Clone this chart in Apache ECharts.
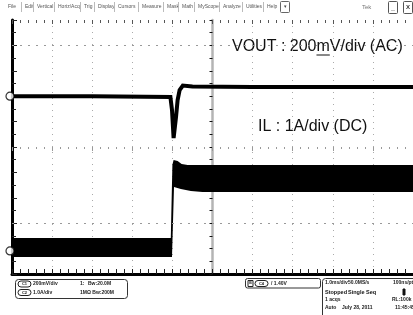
<!DOCTYPE html>
<html>
<head>
<meta charset="utf-8" />
<script src="https://cdn.jsdelivr.net/npm/echarts@6/dist/echarts.min.js"></script>
<title></title>
<style>
    html, body { margin: 0; padding: 0; background: #fff; }
    #main { width: 413px; height: 315px; }
</style>
</head>
<body>
<div id="main"></div>
<script type="text/javascript">

    // time in ms (1.0 ms/div, 0 = screen centre), levels in divisions from screen centre
    var voutTime  = [-5, -3, -1.05, -1.01, -0.97, -0.91, -0.87, -0.82, -0.74, -0.5, 1, 5];
    var voutLevel = [2.0, 2.0, 1.97, 1.46, 0.35, 1.18, 1.85, 2.24, 2.42, 2.38, 2.36, 2.36];

    // IL ripple band: upper and lower envelope
    var ilTopTime  = [-5, -1.04, -1.0, -0.97, -0.87, -0.77, -0.62, 5];
    var ilTopLevel = [-3.58, -3.58, -0.7, -0.51, -0.55, -0.67, -0.71, -0.71];
    var ilBotTime  = [-5, -1.01, -0.96, -0.79, -0.54, -0.25, 5];
    var ilBotLevel = [-4.33, -4.33, -1.57, -1.65, -1.73, -1.77, -1.77];

    var channelMarks = [2.0, -4.09];   // ch1 / ch2 ground reference
    var refRows = [4, -3];

    var menuItems = ['File', 'Edit', 'Vertical', 'Horiz/Acq', 'Trig', 'Display', 'Cursors',
        'Measure', 'Mask', 'Math', 'MyScope', 'Analyze', 'Utilities', 'Help'];
    var menuX = [8, 25, 37, 58, 84, 98, 118, 142, 167, 182, 198, 223, 246, 267];

    var chart = echarts.init(document.getElementById('main'));

    var FONT = '"Liberation Sans", Arial, sans-serif';
    var ctx = document.createElement('canvas').getContext('2d');
    ctx.font = '16px ' + FONT;
    var voutX = 232;
    var mStart = voutX + ctx.measureText('VOUT : 200').width;
    var mWidth = ctx.measureText('m').width;

    function renderBand(params, api) {
        var pts = [];
        for (var i = 0; i < ilTopTime.length; i++) {
            pts.push(api.coord([ilTopTime[i], ilTopLevel[i]]));
        }
        for (var j = ilBotTime.length - 1; j >= 0; j--) {
            pts.push(api.coord([ilBotTime[j], ilBotLevel[j]]));
        }
        return { type: 'polygon', shape: { points: pts }, style: { fill: '#000' } };
    }

    function txt(x, y, s, size, bold, fill, align) {
        return {
            type: 'text', x: x, y: y, silent: true,
            style: {
                text: s, font: (bold ? 'bold ' : '') + size + 'px ' + FONT,
                fill: fill || '#222', align: align || 'left', verticalAlign: 'middle'
            }
        };
    }
    function box(x, y, w, h, r, stroke, fill) {
        return {
            type: 'rect', silent: true,
            shape: { x: x, y: y, width: w, height: h, r: r },
            style: { fill: fill || 'none', stroke: stroke || '#333', lineWidth: 1 }
        };
    }
    function oval(x, y, label) {
        return [box(x, y, 13, 6, 3, '#222'), txt(x + 6.5, y + 3, label, 4, true, '#222', 'center')];
    }

    var graphics = [];
    // menu bar
    menuItems.forEach(function (m, i) {
        graphics.push(txt(menuX[i], 7, m, 5, false, '#555'));
        if (i > 0) {
            graphics.push({ type: 'line', silent: true, shape: { x1: menuX[i] - 3.5, y1: 2, x2: menuX[i] - 3.5, y2: 12 },
                style: { stroke: '#bbb', lineWidth: 1 } });
        }
    });
    graphics.push(box(280.5, 1.5, 9, 11, 1, '#666'));
    graphics.push(txt(285, 7, '▾', 5, false, '#444', 'center'));
    graphics.push(txt(362, 7, 'Tek', 6, false, '#777'));
    graphics.push(box(388.5, 1.5, 9, 12, 1, '#555'));
    graphics.push(txt(393, 8, '_', 7, true, '#333', 'center'));
    graphics.push(box(403.5, 1.5, 9, 12, 1, '#555'));
    graphics.push(txt(408, 7.5, 'X', 6, true, '#333', 'center'));

    // trace labels
    graphics.push(txt(voutX, 47, 'VOUT : 200mV/div (AC)', 16, false, '#111'));
    graphics.push({ type: 'line', silent: true,
        shape: { x1: mStart, y1: 55, x2: mStart + mWidth, y2: 55 }, style: { stroke: '#111', lineWidth: 1 } });
    graphics.push(txt(258, 127, 'IL : 1A/div (DC)', 16, false, '#111'));

    // bottom status panel
    graphics.push(box(15.5, 279.5, 112, 19, 3, '#333'));
    graphics = graphics.concat(oval(18, 281, 'C1'));
    graphics.push(txt(33, 284, '200mV/div', 5, true));
    graphics.push(txt(80, 284, '1:', 5, true));
    graphics.push(txt(88, 284, 'Bw:20.0M', 5, true));
    graphics = graphics.concat(oval(18, 289.5, 'C2'));
    graphics.push(txt(33, 292.5, '1.0A/div', 5, true));
    graphics.push(txt(80, 292.5, '1MΩ Bw:200M', 5, true));

    graphics.push(box(245.5, 278.5, 75, 9.5, 2, '#333'));
    graphics.push(box(248, 280.5, 5, 6, 0, '#222'));
    graphics.push(txt(250.5, 283.5, 'B', 3.5, true, '#222', 'center'));
    graphics = graphics.concat(oval(255, 280.5, 'C4'));
    graphics.push(txt(271, 283.5, '/ 1.40V', 5, true));

    graphics.push(box(322.5, 278.5, 100, 50, 3, '#333'));
    graphics.push(txt(325, 283, '1.0ms/div', 5, true));
    graphics.push(txt(348, 283, '50.0MS/s', 5, true));
    graphics.push(txt(393, 283, '100ns/pt', 5, true));
    graphics.push(txt(325, 292, 'Stopped', 5.5, true, '#111'));
    graphics.push(txt(348, 292, 'Single Seq', 5.5, true, '#111'));
    graphics.push(box(403, 289, 2, 6, 0, '#111', '#111'));
    graphics.push(txt(325, 300, '1 acqs', 5, true));
    graphics.push(txt(392, 300, 'RL:100k', 5, true));
    graphics.push(txt(325, 307.5, 'Auto', 5, true));
    graphics.push(txt(342, 307.5, 'July 28, 2011', 5, true));
    graphics.push(txt(395, 307.5, '11:45:45', 5, true));

    var gridRect = { left: 12, top: 20, width: 406, height: 254 };

    chart.setOption({
        animation: false,
        backgroundColor: '#fff',
        grid: [
            { left: gridRect.left, top: gridRect.top, width: gridRect.width, height: gridRect.height },
            { left: gridRect.left, top: gridRect.top, width: gridRect.width, height: gridRect.height }
        ],
        xAxis: [
            {
                type: 'value', gridIndex: 0, position: 'bottom', min: -5, max: 5, interval: 1,
                axisLine: { onZero: false, lineStyle: { color: '#000', width: 3 } },
                axisTick: { show: true, inside: true, length: 5, lineStyle: { color: '#222' } },
                minorTick: { show: true, splitNumber: 5, length: 5, lineStyle: { color: '#222' } },
                axisLabel: { show: false },
                splitLine: { show: true, lineStyle: { color: '#aaa', width: 1, type: [1, 5] } }
            },
            {
                // centre horizontal line
                type: 'value', gridIndex: 0, position: 'top', min: -5, max: 5, interval: 1,
                axisLine: { show: false, onZero: true },
                axisTick: { show: true, inside: true, length: 4, lineStyle: { color: '#999' } },
                minorTick: { show: true, splitNumber: 5, length: 2, lineStyle: { color: '#999' } },
                axisLabel: { show: false },
                splitLine: { show: false }
            },
            {
                type: 'value', gridIndex: 1, position: 'top', min: -5, max: 5, interval: 1,
                axisLine: { show: false, onZero: false },
                axisTick: { show: true, inside: true, length: 4, lineStyle: { color: '#555' } },
                minorTick: { show: true, splitNumber: 5, length: 3, lineStyle: { color: '#555' } },
                axisLabel: { show: false },
                splitLine: { show: false }
            }
        ],
        yAxis: [
            {
                type: 'value', gridIndex: 0, position: 'left', min: -5, max: 5, interval: 1,
                axisLine: { onZero: false, lineStyle: { color: '#000', width: 3 } },
                axisTick: { show: true, inside: true, length: 5, lineStyle: { color: '#222' } },
                minorTick: { show: true, splitNumber: 2, length: 4, lineStyle: { color: '#222' } },
                axisLabel: { show: false },
                splitLine: { show: false }
            },
            {
                // centre vertical line
                type: 'value', gridIndex: 0, position: 'right', min: -5, max: 5, interval: 1,
                axisLine: { show: true, onZero: true, lineStyle: { color: '#b4b4b4', width: 2.5 } },
                axisTick: { show: true, inside: true, length: 3, lineStyle: { color: '#111' } },
                minorTick: { show: true, splitNumber: 2, length: 3, lineStyle: { color: '#111' } },
                axisLabel: { show: false },
                splitLine: { show: false }
            },
            {
                type: 'value', gridIndex: 1, min: -5, max: 5, show: false
            }
        ],
        series: [
            {
                type: 'line', xAxisIndex: 0, yAxisIndex: 0, data: [], z: 1, silent: true,
                markLine: {
                    silent: true, symbol: 'none', label: { show: false },
                    lineStyle: { color: '#999', width: 1, type: [2, 6] },
                    data: refRows.map(function (v) { return { yAxis: v }; })
                }
            },
            {
                name: 'IL', type: 'custom', xAxisIndex: 0, yAxisIndex: 0, z: 3, silent: true,
                renderItem: renderBand, data: [[0, 0]]
            },
            {
                name: 'VOUT', type: 'line', xAxisIndex: 0, yAxisIndex: 0, z: 3, silent: true,
                showSymbol: false, symbol: 'none',
                lineStyle: { color: '#000', width: 4, join: 'miter' },
                data: voutTime.map(function (t, i) { return [t, voutLevel[i]]; })
            },
            {
                type: 'scatter', xAxisIndex: 0, yAxisIndex: 0, z: 4, clip: false, silent: true,
                symbol: 'circle', symbolSize: 8, symbolOffset: [-2, 0],
                itemStyle: { color: '#fff', borderColor: '#000', borderWidth: 1.2 },
                data: channelMarks.map(function (v) { return [-5, v]; })
            }
        ],
        graphic: graphics
    });

</script>
</body>
</html>
